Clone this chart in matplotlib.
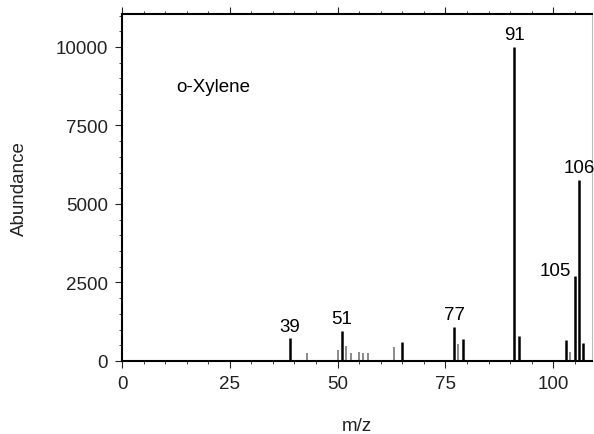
import matplotlib
matplotlib.use("Agg")
import matplotlib.pyplot as plt
from matplotlib.ticker import MultipleLocator

plt.rcParams['font.family'] = ['Liberation Sans', 'DejaVu Sans']

# o-xylene mass spectrum
mz = [39, 43, 50, 51, 52, 53, 55, 56, 57, 63, 65, 77, 78, 79, 91, 92,
      103, 104, 105, 106, 107]
abundance = [720, 250, 350, 970, 490, 250, 290, 240, 250, 440, 600, 1090, 540, 700,
             10000, 790, 680, 300, 2700, 5770, 570]
labelled = [39, 51, 77, 91, 105, 106]
compound = "o-Xylene"

fig = plt.figure(figsize=(5.94, 4.35), dpi=100)
ax = fig.add_axes([122 / 594, 1 - 362 / 435, 470 / 594, 347 / 435])

for m, a in zip(mz, abundance):
    if m in labelled or a > 550:
        ax.vlines(m, 0, a, color='black', lw=1.8)
    else:
        ax.vlines(m, 0, a, color='#777777', lw=1.2)

for m, a in zip(mz, abundance):
    if m not in labelled:
        continue
    if m == 105:
        # 106 sits right next to it, so this one goes to the left
        ax.text(m - 0.8, a - 80, str(m), ha='right', va='bottom', fontsize=13.5)
    else:
        ax.text(m, a + 120, str(m), ha='center', va='bottom', fontsize=13.5)

ax.text(12.5, 8730, compound, ha='left', va='center', fontsize=13.5)

ax.set_xlim(0, 109)
ax.set_ylim(0, 11050)
ax.xaxis.set_major_locator(MultipleLocator(25))
ax.xaxis.set_minor_locator(MultipleLocator(5))
ax.yaxis.set_major_locator(MultipleLocator(2500))
ax.yaxis.set_minor_locator(MultipleLocator(500))

ax.tick_params(which='both', direction='out', top=True, right=False,
               labelsize=13.5, colors='#222222')
ax.tick_params(which='major', length=5, pad=5)
ax.tick_params(which='minor', length=2.5)
ax.spines['right'].set_color('#bbbbbb')
for s in ['left', 'bottom', 'top']:
    ax.spines[s].set_linewidth(1.5)

ax.set_xlabel('m/z', fontsize=13.5, labelpad=18, color='#222222')
ax.set_ylabel('Abundance', fontsize=13.5, labelpad=20, color='#222222')

fig.savefig('out.png', dpi=100)
